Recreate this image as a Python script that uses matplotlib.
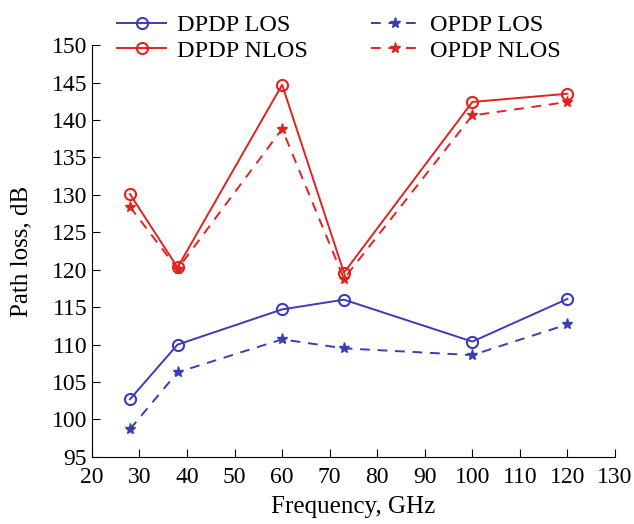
import matplotlib.pyplot as plt

plt.rcParams['font.family'] = ['Liberation Serif', 'DejaVu Serif']

freq = [28, 38, 60, 73, 100, 120]
dpdp_los = [102.7, 110.0, 114.7, 116.0, 110.4, 116.1]
opdp_los = [98.7, 106.3, 110.7, 109.5, 108.6, 112.7]
dpdp_nlos = [130.1, 120.3, 144.7, 119.6, 142.4, 143.5]
opdp_nlos = [128.4, 120.1, 138.8, 118.8, 140.6, 142.4]

blue = '#3c3cb4'
red = '#e0231e'

fig = plt.figure(figsize=(6.34, 5.24), dpi=100)
ax = fig.add_axes([0.145, 0.128, 0.825, 0.786])

ax.plot(freq, dpdp_los, '-', color=blue, lw=1.4, marker='o', ms=8,
        mfc='none', mew=1.5, label='DPDP LOS')
ax.plot(freq, dpdp_nlos, '-', color=red, lw=1.4, marker='o', ms=8,
        mfc='none', mew=1.5, label='DPDP NLOS')
ax.plot(freq, opdp_los, '--', color=blue, lw=1.4, marker='*', ms=8,
        dashes=(5, 4), label='OPDP LOS')
ax.plot(freq, opdp_nlos, '--', color=red, lw=1.4, marker='*', ms=8,
        dashes=(5, 4), label='OPDP NLOS')

ax.set_xlim(20, 130)
ax.set_ylim(95, 150)
ax.set_xticks(range(20, 131, 10))
ax.set_yticks(range(95, 151, 5))
ax.tick_params(direction='in', labelsize=17, length=6)
ax.tick_params(axis='x', pad=7)
ax.spines['top'].set_visible(False)
ax.spines['right'].set_visible(False)
ax.set_xlabel('Frequency, GHz', fontsize=18, labelpad=6)
ax.set_ylabel('Path loss, dB', fontsize=18, labelpad=14)

h, l = ax.get_legend_handles_labels()
fig.legend(h, l, ncol=2, loc='upper center', bbox_to_anchor=(0.535, 1.015),
           frameon=False, fontsize=17.5, handlelength=2.0, columnspacing=2.6,
           labelspacing=0.15, handletextpad=0.45)

fig.savefig('out.png', dpi=100)
